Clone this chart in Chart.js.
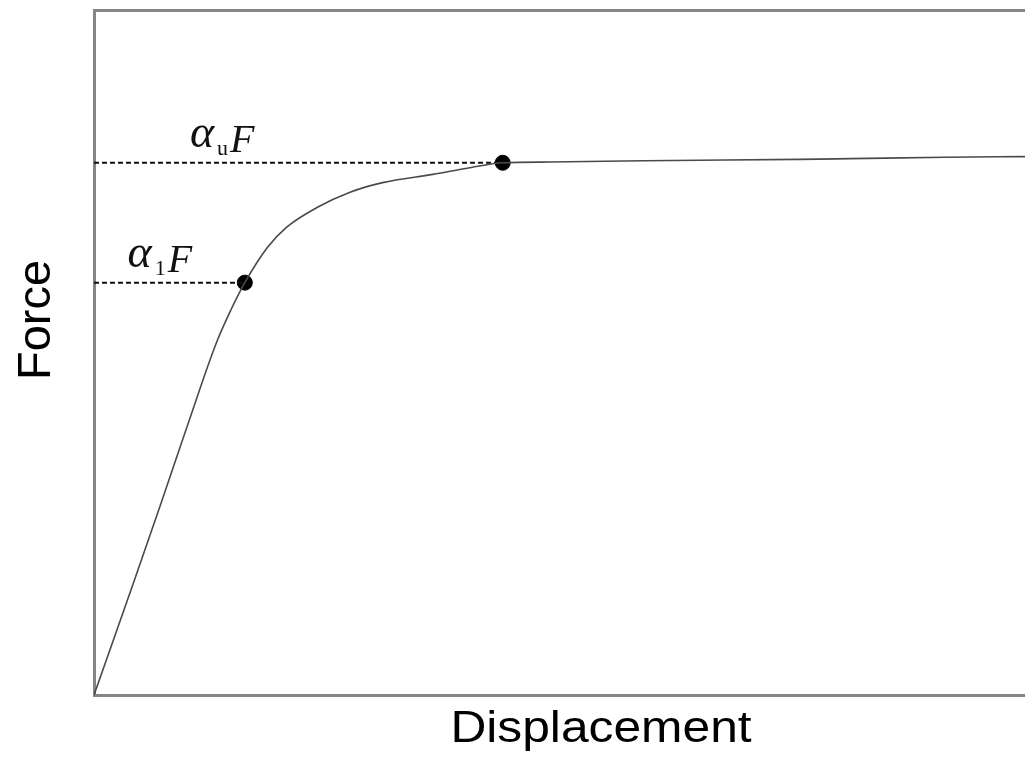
<!DOCTYPE html>
<html>
<head>
<meta charset="utf-8">
<script src="https://cdn.jsdelivr.net/npm/chart.js@4.4.1/dist/chart.umd.min.js"></script>
<style>
  body { margin: 0; background: #fff; }
</style>
</head>
<body>
<canvas id="curveChart" width="1025" height="763"></canvas>
<script>
// Force-displacement curve (normalised 0-100 on both axes)
const displacement = [0, 4.3, 7.2, 10.1, 13.2, 14.7, 16.2, 18.6, 20.7, 24.0, 27.5, 31.0, 36.4, 40.1, 43.9, 49.0, 59.2, 75.8, 81.2, 91.4, 100];
const force = [0, 16.6, 28.0, 39.6, 51.6, 56.2, 60.2, 65.3, 68.3, 71.2, 73.4, 74.8, 76.0, 76.9, 77.7, 77.8, 78.0, 78.2, 78.3, 78.5, 78.6];

// marked points: first yield (alpha_1 F) and ultimate (alpha_u F)
const markLabels = ['1', 'u'];
const markX = [16.2, 43.9];
const markY = [60.2, 77.7];
const markTextX = [3.6, 10.3];

const curve = displacement.map((d, i) => ({ x: d, y: force[i] }));
const marks = markX.map((d, i) => ({ x: d, y: markY[i] }));

// dashed guide from the force axis to each marked point
const guides = markX.map((d, i) => ({
    type: 'scatter',
    data: [{ x: 0, y: markY[i] }, { x: d, y: markY[i] }],
    showLine: true,
    borderColor: '#111',
    borderWidth: 2,
    borderDash: [5, 3],
    pointRadius: 0
}));

// labels alpha_1 F / alpha_u F and the axis titles
const textPlugin = {
    id: 'texts',
    afterDraw(chart) {
        const ctx = chart.ctx;
        const xs = chart.scales.x, ys = chart.scales.y;
        ctx.save();
        ctx.fillStyle = '#111';
        ctx.textBaseline = 'alphabetic';
        ctx.textAlign = 'left';
        markLabels.forEach((sub, i) => {
            let px = xs.getPixelForValue(markTextX[i]);
            const py = ys.getPixelForValue(markY[i]);
            ctx.font = 'italic 46px "Liberation Serif"';
            ctx.fillText('α', px, py - 16);
            px += ctx.measureText('α').width + 3;
            ctx.font = '22px "Liberation Serif"';
            ctx.fillText(sub, px, py - 8);
            px += ctx.measureText(sub).width + 2;
            ctx.font = 'italic 40px "Liberation Serif"';
            ctx.fillText('F', px, py - 11);
        });

        ctx.fillStyle = '#000';
        ctx.font = '44px "Liberation Sans"';
        ctx.textAlign = 'center';
        ctx.save();
        ctx.translate(601, 742);
        ctx.scale(1.13, 1);
        ctx.fillText('Displacement', 0, 0);
        ctx.restore();

        ctx.save();
        ctx.translate(50, 320);
        ctx.rotate(-Math.PI / 2);
        ctx.font = '47px "Liberation Sans"';
        ctx.fillText('Force', 0, 0);
        ctx.restore();
        ctx.restore();
    }
};

const axisColor = '#858585';
const bareAxis = {
    min: 0, max: 100,
    ticks: { display: false },
    grid: { display: false, drawTicks: false },
    border: { color: axisColor, width: 3 }
};

new Chart(document.getElementById('curveChart'), {
    type: 'scatter',
    data: {
        datasets: [{
            data: curve,
            showLine: true,
            borderColor: '#4a4a4a',
            borderWidth: 1.6,
            pointRadius: 0,
            cubicInterpolationMode: 'monotone'
        },
        ...guides,
        {
            data: marks,
            pointRadius: 7.5,
            backgroundColor: '#000',
            borderColor: '#000',
            showLine: false
        }]
    },
    options: {
        responsive: false,
        animation: false,
        devicePixelRatio: 1,
        layout: { autoPadding: false, padding: { left: 94, top: 10, right: 0, bottom: 68 } },
        plugins: { legend: { display: false }, tooltip: { enabled: false } },
        scales: {
            x: { ...bareAxis },
            xTop: { ...bareAxis, type: 'linear', position: 'top' },
            y: { ...bareAxis }
        }
    },
    plugins: [textPlugin]
});
</script>
</body>
</html>
